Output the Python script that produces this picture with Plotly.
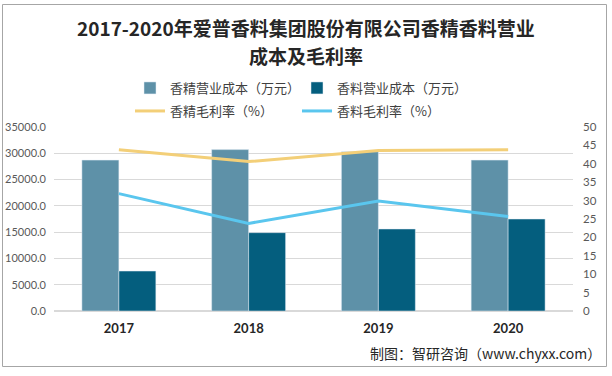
import plotly.graph_objects as go

years = ["2017", "2018", "2019", "2020"]
fragrance_cost = [28700, 30700, 30300, 28700]   # 香精营业成本（万元）
spice_cost = [7600, 14900, 15600, 17500]        # 香料营业成本（万元）
fragrance_margin = [43.8, 40.6, 43.6, 43.8]     # 香精毛利率（%）
spice_margin = [31.9, 23.8, 29.9, 25.7]         # 香料毛利率（%）

left_ticks = [0, 5000, 10000, 15000, 20000, 25000, 30000, 35000]
right_ticks = [0, 5, 10, 15, 20, 25, 30, 35, 40, 45, 50]

title_lines = ["2017-2020年爱普香料集团股份有限公司香精香料营业", "成本及毛利率"]
footnote = "制图：智研咨询（www.chyxx.com）"

W, H = 612, 376
L, R, T, B = 54, 39, 127, 65
pw, ph = W - L - R, H - T - B

def px(x):
    return (x - L) / pw

def py(y):
    return (H - B - y) / ph

c_light = "#5E91A8"
c_dark = "#045E7E"
c_yellow = "#F3CF78"
c_blue = "#5AC6EE"
cjk = "Noto Sans CJK SC"

fig = go.Figure()
fig.add_trace(go.Bar(x=years, y=fragrance_cost, name="香精营业成本（万元）",
                     marker_color=c_light, legend="legend"))
fig.add_trace(go.Bar(x=years, y=spice_cost, name="香料营业成本（万元）",
                     marker_color=c_dark, legend="legend"))
fig.add_trace(go.Scatter(x=years, y=fragrance_margin, name="香精毛利率（%）",
                         mode="lines", line=dict(color=c_yellow, width=3),
                         yaxis="y2", legend="legend2"))
fig.add_trace(go.Scatter(x=years, y=spice_margin, name="香料毛利率（%）",
                         mode="lines", line=dict(color=c_blue, width=3),
                         yaxis="y2", legend="legend2"))

leg_common = dict(orientation="h", xanchor="left", yanchor="middle",
                  xref="container", yref="container",
                  font=dict(family=cjk, size=13, color="#404040"),
                  bgcolor="rgba(0,0,0,0)", entrywidth=122, entrywidthmode="pixels",
                  itemclick=False, itemdoubleclick=False)

title_font = dict(family=cjk, size=19, color="#262626", weight="bold")
annotations = [
    dict(text=title_lines[0], xref="paper", yref="paper", x=px(306), y=py(28),
         xanchor="center", yanchor="middle", showarrow=False, font=title_font),
    dict(text=title_lines[1], xref="paper", yref="paper", x=px(306), y=py(56),
         xanchor="center", yanchor="middle", showarrow=False, font=title_font),
    dict(text=footnote, xref="paper", yref="paper",
         x=px(603), y=py(353), xanchor="right", yanchor="middle",
         showarrow=False, font=dict(family=cjk, size=14, color="#262626")),
]

fig.update_layout(
    width=W, height=H,
    margin=dict(l=L, r=R, t=T, b=B, autoexpand=False),
    paper_bgcolor="white", plot_bgcolor="white",
    barmode="group", bargap=0.43, bargroupgap=0,
    showlegend=True,
    legend=dict(x=130 / W, y=1 - 88 / H, **leg_common),
    legend2=dict(x=130 / W, y=1 - 111 / H, **leg_common),
    xaxis=dict(showgrid=False, showline=False, ticks="",
               tickfont=dict(family="Lato", size=13, color="#262626", weight="bold"),
               ticklabelstandoff=8),
    yaxis=dict(range=[0, 35000], tickvals=left_ticks,
               ticktext=[f"{v:.1f}" for v in left_ticks],
               showgrid=True, gridcolor="#D9D9D9", gridwidth=1,
               zeroline=True, zerolinecolor="#D9D9D9", showline=False,
               tickfont=dict(family="Lato", size=11, color="#595959"),
               ticklabelstandoff=7),
    yaxis2=dict(range=[0, 50], tickvals=right_ticks, overlaying="y", side="right",
                showgrid=False, zeroline=False, showline=False,
                tickfont=dict(family="Lato", size=11.5, color="#595959"),
                ticklabelstandoff=9),
    shapes=[dict(type="rect", xref="paper", yref="paper",
                 x0=px(2.5), x1=px(606.5), y0=py(366.5), y1=py(4.5),
                 line=dict(color="#A6A6A6", width=1), fillcolor="rgba(0,0,0,0)",
                 layer="below")],
    annotations=annotations,
)

fig.write_html("out.html", config={"displayModeBar": False},
               post_script="document.body.style.margin='0';document.body.style.overflow='hidden';")
